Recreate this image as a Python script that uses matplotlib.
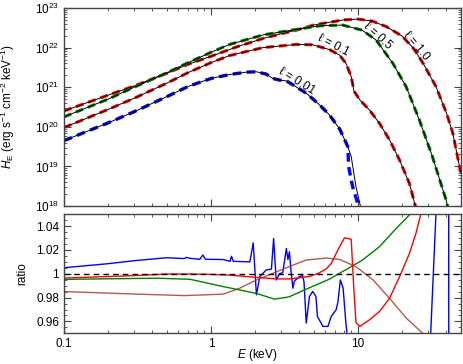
import matplotlib
matplotlib.use("Agg")
import matplotlib.pyplot as plt
import numpy as np
from matplotlib.ticker import LogLocator, MultipleLocator, FixedLocator, NullFormatter

plt.rcParams['font.family'] = ['Liberation Sans', 'DejaVu Sans']
plt.rcParams['mathtext.fontset'] = 'custom'
plt.rcParams['mathtext.rm'] = 'Liberation Sans'
plt.rcParams['mathtext.it'] = 'Liberation Sans:italic'
plt.rcParams['font.size'] = 8

# ---- top panel: log10 of H_E ----
E_l10 = [0.1, 0.2, 0.3, 0.5, 0.7, 1.0, 1.5, 2.26, 3.0, 3.81, 5.0, 6.4, 8.0, 10.0,
         12.5, 15.6, 20.0, 24.0, 28.0, 34.0, 40.0, 44.2, 50.0]
H_l10 = [20.40, 20.80, 21.03, 21.35, 21.58, 21.78, 22.02, 22.23, 22.35, 22.44, 22.57,
         22.64, 22.70, 22.72, 22.67, 22.53, 22.29, 21.97, 21.58, 21.01, 20.35, 19.84, 18.85]

E_l05 = [0.1, 0.2, 0.3, 0.5, 0.7, 1.0, 1.34, 2.26, 3.81, 5.5, 7.85, 10.7, 13.3, 17.3,
         21.3, 26.2, 32.1, 39.8, 42.0]
H_l05 = [20.25, 20.70, 21.00, 21.36, 21.62, 21.88, 22.08, 22.32, 22.46, 22.55, 22.57,
         22.44, 22.19, 21.60, 21.01, 20.17, 19.25, 18.15, 17.8]

E_l01 = [0.1, 0.2, 0.3, 0.5, 0.7, 1.0, 1.34, 2.26, 3.81, 4.94, 6.4, 7.5, 8.3, 9.0,
         9.4, 10.3, 12.0, 14.0, 16.4, 19.2, 22.4, 24.3, 25.0]
H_l01 = [19.98, 20.44, 20.72, 21.10, 21.37, 21.62, 21.80, 22.00, 22.08, 22.07, 21.95,
         21.81, 21.60, 21.27, 20.90, 20.68, 20.42, 20.09, 19.67, 19.16, 18.57, 18.07, 17.9]

E_l001 = [0.1, 0.2, 0.3, 0.5, 0.7, 1.0, 1.34, 1.74, 2.04, 2.38, 2.64, 2.93, 3.26,
          3.61, 4.45, 5.5, 6.4, 7.5, 8.3, 8.53]
H_l001 = [19.65, 20.10, 20.38, 20.76, 21.02, 21.22, 21.32, 21.38, 21.39, 21.33, 21.22,
          21.18, 21.16, 21.06, 20.85, 20.55, 20.30, 19.95, 19.60, 19.50]
# tails where the two calculations for l = 0.01 part
E_l001_black = [9.0, 9.7, 10.4, 10.8]
H_l001_black = [19.25, 18.49, 18.0, 17.8]
E_l001_blue = [8.65, 9.2, 10.1, 10.5]
H_l001_blue = [18.99, 18.49, 18.0, 17.8]

# ---- bottom panel: ratios ----
E_r_blue = [0.1, 0.2, 0.3, 0.5, 0.66, 0.68, 0.72, 0.84, 0.88, 0.92, 1.21, 1.35, 1.38,
            1.42, 1.84, 1.94, 2.04, 2.15, 2.37, 2.58, 2.67, 2.78, 2.93, 3.08, 3.26,
            3.34, 3.42, 3.51, 3.61, 3.70, 4.0, 4.2, 4.3, 4.45, 4.68, 4.92, 5.18, 5.3,
            5.78, 6.25, 6.58, 7.11, 7.3, 7.6, 7.93, 8.28, 8.6, 31.0, 34.5, 41.4, 41.5]
R_blue = [1.0051, 1.0085, 1.0110, 1.0135, 1.0128, 1.0138, 1.0130, 1.0122, 1.0158,
          1.0122, 1.0120, 1.0105, 1.0147, 1.0105, 1.0100, 1.0260, 0.9823, 0.9976,
          1.0031, 1.0040, 1.0297, 0.9948, 1.0000, 1.0010, 1.0213, 1.0120, 1.0185,
          1.0020, 0.9879, 0.9940, 0.9976, 0.9985, 0.9930, 0.9586, 0.9809, 0.9851,
          0.9810, 0.9642, 0.9558, 0.9558, 0.9642, 0.9698, 0.9760, 0.9948, 0.9880,
          0.9586, 0.9400, 0.9400, 1.0700, 1.3000, 0.8000]

E_r_red = [0.1, 0.3, 0.5, 0.72, 1.0, 1.34, 2.04, 2.78, 3.4, 3.81, 4.7, 5.4, 6.1, 6.6,
           7.2, 7.5, 8.1, 8.55, 9.0, 9.4, 9.7, 10.3, 12.0, 14.0, 16.4, 19.2, 22.4,
           24.8, 27.5]
R_red = [0.9964, 0.9985, 0.9998, 0.9998, 0.9995, 0.9989, 0.9970, 0.9957, 0.9957,
         0.9963, 0.9978, 1.0005, 1.0042, 1.0088, 1.0185, 1.0227, 1.0302, 1.0297,
         1.0290, 0.9850, 0.9590, 0.9558, 0.9614, 0.9683, 0.9794, 0.9976, 1.0171,
         1.0339, 1.0560]

E_r_green = [0.1, 0.2, 0.43, 0.72, 1.21, 2.04, 2.71, 3.4, 4.45, 6.4, 10.7, 14.0,
             18.2, 22.4, 24.0]
R_green = [0.9953, 0.9958, 0.9963, 0.9954, 0.9893, 0.9835, 0.9787, 0.9806, 0.9871,
           0.9955, 1.0114, 1.0227, 1.0381, 1.0494, 1.0560]

E_r_brown = [0.1, 0.3, 0.66, 1.21, 1.57, 2.04, 2.64, 3.4, 4.45, 6.1, 7.5, 9.7, 12.7,
             16.4, 21.3, 27.6, 30.0]
R_brown = [0.9851, 0.9830, 0.9817, 0.9829, 0.9879, 0.9948, 1.0004, 1.0060, 1.0116,
           1.0132, 1.0121, 1.0060, 0.9948, 0.9794, 0.9628, 0.9500, 0.9440]

labels = ['ℓ = 0.01', 'ℓ = 0.1', 'ℓ = 0.5', 'ℓ = 1.0']
label_E = [3.85, 6.8, 13.6, 24.8]
label_H = [1.45e21, 1.15e22, 2.0e22, 1.1e22]
label_rot = [-32, -28, -42, -50]

green = '#008000'
brown = '#a83a32'
dash = (0, (2.6, 1.6))

fig = plt.figure(figsize=(4.63, 3.64), dpi=100)
ax1 = fig.add_axes([0.138, 0.434, 0.857, 0.544])
ax2 = fig.add_axes([0.138, 0.0843, 0.857, 0.327])

def pw(v):
    return 10.0 ** np.array(v)

for E, H, c in [(E_l10, H_l10, 'red'), (E_l05, H_l05, green), (E_l01, H_l01, 'red')]:
    ax1.plot(E, pw(H), color=c, lw=2.2, ls=dash)
    ax1.plot(E, pw(H), color='black', lw=0.7)

ax1.plot(E_l001 + E_l001_blue, pw(H_l001 + H_l001_blue), color='blue', lw=2.4, ls=dash)
ax1.plot(E_l001 + E_l001_black, pw(H_l001 + H_l001_black), color='black', lw=0.7)

for s, x, y, r in zip(labels, label_E, label_H, label_rot):
    ax1.text(x, y, s, rotation=r, ha='center', va='center', fontsize=8.5,
             rotation_mode='anchor')

ax1.set_xscale('log')
ax1.set_yscale('log')
ax1.set_xlim(0.1, 50)
ax1.set_ylim(1e18, 1e23)
ax1.yaxis.set_major_locator(LogLocator(base=10, numticks=10))
ax1.yaxis.set_minor_locator(LogLocator(base=10, subs=np.arange(2, 10), numticks=20))
ax1.yaxis.set_minor_formatter(NullFormatter())
ax1.xaxis.set_major_formatter(NullFormatter())
ax1.set_ylabel('$H_\\mathrm{E}$ (erg s$^{-1}$ cm$^{-2}$ keV$^{-1}$)', fontsize=8.5)
ax1.yaxis.set_label_coords(-0.118, 0.5)

ax2.plot(E_r_blue, R_blue, color='blue', lw=1.0)
ax2.plot(E_r_brown, R_brown, color=brown, lw=1.0, alpha=0.85)
ax2.plot(E_r_green, R_green, color=green, lw=1.0)
ax2.plot(E_r_red, R_red, color='red', lw=1.0)
ax2.axhline(1.0, color='black', lw=1.0, ls=(0, (4, 3)))
ax2.set_xscale('log')
ax2.set_xlim(0.1, 50)
ax2.set_ylim(0.95, 1.05)
ax2.yaxis.set_major_locator(FixedLocator([0.96, 0.98, 1.0, 1.02, 1.04]))
ax2.yaxis.set_minor_locator(MultipleLocator(0.005))
ax2.set_yticklabels(['0.96', '0.98', '1', '1.02', '1.04'])
ax2.set_xticks([0.1, 1, 10])
ax2.set_xticklabels(['0.1', '1', '10'])
ax2.xaxis.set_minor_formatter(NullFormatter())
ax2.set_ylabel('ratio', fontsize=8.5)
ax2.yaxis.set_label_coords(-0.09, 0.5)
ax2.set_xlabel('$E$ (keV)', fontsize=8.5)
ax2.xaxis.set_label_coords(0.486, -0.115)

for ax in (ax1, ax2):
    for sp in ax.spines.values():
        sp.set_color('#444444')
        sp.set_linewidth(1.0)
    ax.tick_params(which='both', direction='in', top=True, right=True,
                   color='#444444', labelsize=8.5)
    ax.tick_params(which='major', length=5, width=0.8)
    ax.tick_params(which='minor', length=2.5, width=0.6)

fig.savefig('out.png', dpi=100)
